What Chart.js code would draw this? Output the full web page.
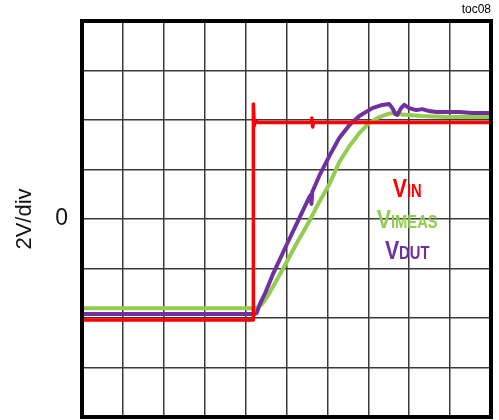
<!DOCTYPE html>
<html>
<head>
<meta charset="utf-8">
<style>
  html, body { margin: 0; padding: 0; background: #ffffff; }
  #wrap { width: 499px; height: 420px; }
</style>
<script src="https://cdn.jsdelivr.net/npm/chart.js@4.4.0/dist/chart.umd.min.js"></script>
</head>
<body>
<div id="wrap"><canvas id="scope" width="499" height="420"></canvas></div>
<script>
// Horizontal axis: time in divisions (0..10). Vertical axis: volts, 2 V/div, 0 V at centre.
const vinT = [0, 4.19, 4.19, 4.21, 4.24, 4.30, 5.61, 5.62, 5.64, 5.66, 10];
const vinV = [-4.08, -4.08, 4.65, 3.75, 3.98, 3.90, 3.90, 4.08, 3.72, 3.90, 3.90];

const vimeasT = [0, 4.22, 4.29, 4.41, 4.54, 4.90, 5.24, 5.56, 5.80, 6.05, 6.29, 6.54, 6.78, 7.02, 7.27, 7.51, 7.71, 7.83, 8.00, 8.32, 8.90, 9.54, 10];
const vimeasV = [-3.61, -3.61, -3.58, -3.43, -3.11, -2.06, -1.01, -0.08, 0.69, 1.41, 2.30, 2.95, 3.47, 3.88, 4.12, 4.26, 4.28, 4.22, 4.20, 4.16, 4.12, 4.12, 4.12];

const vdutT = [0, 4.22, 4.27, 4.34, 4.49, 4.66, 5.00, 5.27, 5.56, 5.59, 5.61, 5.63, 5.80, 6.05, 6.29, 6.54, 6.78, 7.10, 7.34, 7.51, 7.59, 7.66, 7.71, 7.80, 7.88, 8.00, 8.17, 8.32, 8.49, 8.66, 8.90, 9.22, 9.54, 10];
const vdutV = [-3.84, -3.84, -3.80, -3.47, -2.95, -2.26, -1.05, -0.12, 0.89, 0.97, 0.61, 1.09, 1.74, 2.55, 3.27, 3.80, 4.16, 4.48, 4.61, 4.65, 4.48, 4.24, 4.20, 4.48, 4.61, 4.48, 4.40, 4.44, 4.36, 4.32, 4.32, 4.32, 4.28, 4.28];

const yTicks = [-8, -6, -4, -2, 0, 2, 4, 6, 8];
const yTickLabels = ['', '', '', '', '0', '', '', '', ''];

const traceLabels = [
  { main: 'V', sub: 'IN', color: '#ff0000' },
  { main: 'V', sub: 'IMEAS', color: '#92cd50' },
  { main: 'V', sub: 'DUT', color: '#7030a0' }
];
// Baseline of each trace name, in volts
const traceLabelBaseV = [0.88, -0.37, -1.6];

function toPoints(ts, vs) {
  return ts.map((t, i) => ({ x: t, y: vs[i] }));
}

const textFamily = '"Liberation Sans Narrow", "Liberation Sans", Arial, sans-serif';

// Black frame around the graticule
const framePlugin = {
  id: 'frame',
  afterDatasetsDraw(chart) {
    const { ctx, chartArea: a } = chart;
    ctx.save();
    ctx.strokeStyle = '#000000';
    ctx.lineWidth = 4;
    ctx.strokeRect(a.left, a.top, a.right - a.left, a.bottom - a.top);
    ctx.restore();
  }
};

// Trace names: large "V" followed by smaller suffix letters on the same baseline
const traceLabelPlugin = {
  id: 'traceLabels',
  afterDatasetsDraw(chart) {
    const { ctx, scales } = chart;
    const squeeze = 0.82;
    const cx = scales.x.getPixelForValue(7.95);
    ctx.save();
    traceLabels.forEach((lab, i) => {
      const yb = scales.y.getPixelForValue(traceLabelBaseV[i]);
      ctx.font = 'bold 26px "Liberation Sans", Arial, sans-serif';
      const wMain = ctx.measureText(lab.main).width;
      ctx.font = 'bold 18px "Liberation Sans", Arial, sans-serif';
      const wSub = ctx.measureText(lab.sub).width;
      const total = (wMain + wSub) * squeeze;
      ctx.save();
      ctx.translate(cx - total / 2, yb);
      ctx.scale(squeeze, 1);
      ctx.fillStyle = lab.color;
      ctx.textBaseline = 'alphabetic';
      ctx.textAlign = 'left';
      ctx.font = 'bold 26px "Liberation Sans", Arial, sans-serif';
      ctx.fillText(lab.main, 0, 0);
      ctx.font = 'bold 18px "Liberation Sans", Arial, sans-serif';
      ctx.fillText(lab.sub, wMain, 0);
      ctx.restore();
    });
    ctx.restore();
  }
};

new Chart(document.getElementById('scope'), {
  type: 'line',
  data: {
    datasets: [
      {
        label: 'VIN',
        data: toPoints(vinT, vinV),
        borderColor: '#ff0000',
        borderWidth: 3.5,
        order: 0
      },
      {
        label: 'VDUT',
        data: toPoints(vdutT, vdutV),
        borderColor: '#7030a0',
        borderWidth: 4,
        order: 1
      },
      {
        label: 'VIMEAS',
        data: toPoints(vimeasT, vimeasV),
        borderColor: '#92cd50',
        borderWidth: 4,
        order: 2
      }
    ]
  },
  options: {
    responsive: false,
    devicePixelRatio: 1,
    animation: false,
    events: [],
    elements: {
      point: { radius: 0 },
      line: { tension: 0, borderJoinStyle: 'round', borderCapStyle: 'round', fill: false }
    },
    layout: { padding: { top: 0, right: 8, bottom: 0, left: 0 } },
    plugins: {
      legend: { display: false },
      tooltip: { enabled: false },
      title: {
        display: true,
        text: 'toc08',
        align: 'end',
        color: '#000000',
        font: { family: '"Liberation Sans", Arial, sans-serif', size: 12, weight: 'normal' },
        padding: { top: 2, bottom: 4.6 }
      }
    },
    scales: {
      x: {
        type: 'linear',
        min: 0,
        max: 10,
        ticks: { display: false, stepSize: 1 },
        grid: { color: '#3a3a3a', lineWidth: 1.5, drawTicks: false },
        border: { display: false },
        afterFit(scale) {
          scale.height = 3;
          scale.paddingLeft = 0;
          scale.paddingRight = 0;
        }
      },
      y: {
        type: 'linear',
        min: -8,
        max: 8,
        afterBuildTicks(scale) { scale.ticks = yTicks.map(v => ({ value: v })); },
        ticks: {
          autoSkip: false,
          padding: 14,
          color: '#111111',
          font: { family: textFamily, size: 23 },
          callback(value) { return yTickLabels[yTicks.indexOf(value)] ?? ''; }
        },
        grid: { color: '#3a3a3a', lineWidth: 1.5, drawTicks: false },
        border: { display: false },
        title: {
          display: true,
          text: '2V/div',
          color: '#111111',
          font: { family: textFamily, size: 22 },
          padding: { top: 12, bottom: 0 }
        },
        afterFit(scale) {
          scale.width = 82;
          scale.paddingTop = 0;
          scale.paddingBottom = 0;
        }
      }
    }
  },
  plugins: [framePlugin, traceLabelPlugin]
});
</script>
</body>
</html>
